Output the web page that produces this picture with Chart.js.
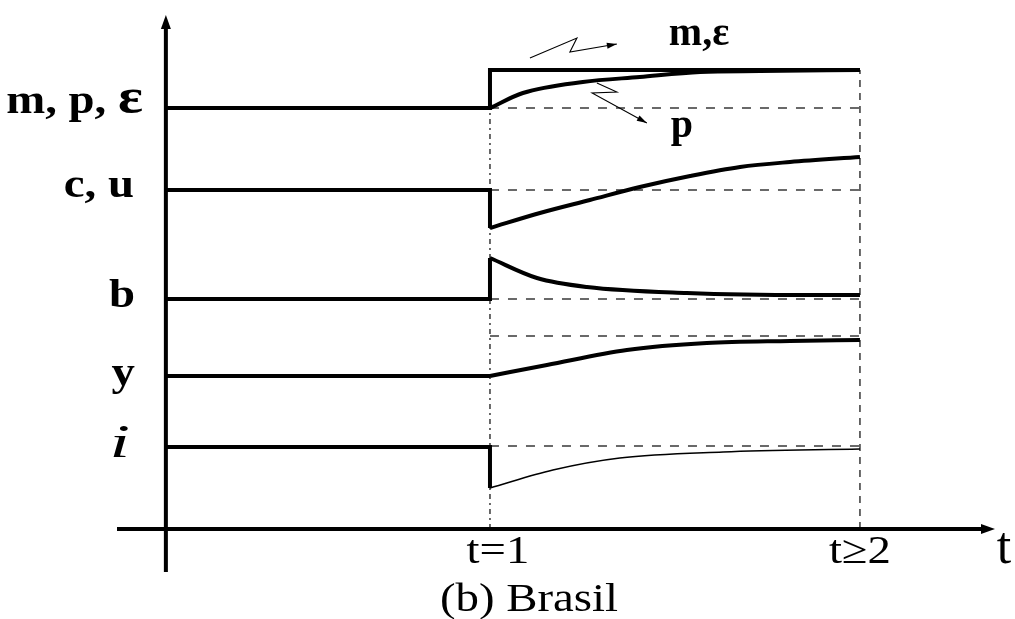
<!DOCTYPE html>
<html>
<head>
<meta charset="utf-8">
<script src="https://cdn.jsdelivr.net/npm/chart.js@4"></script>
<style>
  html, body { margin: 0; padding: 0; background: #fff; }
  #wrap { width: 1015px; height: 619px; position: relative; }
</style>
</head>
<body>
<div id="wrap"><canvas id="chart"></canvas></div>
<script>
// time axis: t=1 is the shock, t=2 the long run; levels in arbitrary units
const AXIS_T = 0.124;            // where the vertical axis sits
const X_MAX = 2.365, Y_MAX = 51.4, Y_AXIS_LOW = -4.3;

// m (and ε): step up at t=1
const M_T = [AXIS_T, 1, 1, 2];
const M_V = [42.1, 42.1, 45.9, 45.9];
// p: gradual rise to the new level
const P_T = [1, 1.089, 1.251, 1.405, 1.568, 1.730, 2];
const P_V = [42.1, 43.6, 44.7, 45.2, 45.7, 45.8, 45.9];
// c, u: drop then rise above old level
const C_STEP_T = [AXIS_T, 1, 1];
const C_STEP_V = [33.9, 33.9, 30.1];
const C_T = [1, 1.135, 1.270, 1.405, 1.541, 1.676, 1.811, 2];
const C_V = [30.1, 31.6, 32.9, 34.2, 35.3, 36.2, 36.7, 37.2];
// b: jump up then decay
const B_STEP_T = [AXIS_T, 1, 1];
const B_STEP_V = [23.0, 23.0, 27.1];
const B_T = [1, 1.127, 1.262, 1.532, 1.865, 2];
const B_V = [27.1, 25.1, 24.2, 23.6, 23.4, 23.4];
// y: gradual rise
const Y_STEP_T = [AXIS_T, 1];
const Y_STEP_V = [15.3, 15.3];
const Y_T = [1, 1.154, 1.370, 1.586, 1.811, 2];
const Y_V = [15.3, 16.4, 17.9, 18.6, 18.8, 18.9];
// i: drop then recovery (thin)
const I_STEP_T = [AXIS_T, 1, 1];
const I_STEP_V = [8.2, 8.2, 4.1];
const I_T = [1, 1.170, 1.351, 1.630, 2];
const I_V = [4.1, 5.9, 7.1, 7.7, 8.0];

// dashed reference levels between t=1 and t=2
const REF_LEVELS = [42.1, 33.9, 23.0, 19.3, 8.3];
const REF_TOP = 45.9;

// left labels
const LEVEL_LABELS = ['m, p, ', 'c, u', 'b', 'y', 'i'];
const LEVEL_VALUES = [42.1, 33.9, 23.0, 15.3, 8.2];
const TICK_T = [1, 2];
const TICK_LABELS = ['t=1', 't\u22652'];

const pts = (ts, vs) => ts.map((t, k) => ({ x: t, y: vs[k] }));

function solid(ts, vs, w, curved) {
  return { data: pts(ts, vs), borderColor: '#000', borderWidth: w, pointRadius: 0,
    fill: false, order: 1, cubicInterpolationMode: curved ? 'monotone' : 'default', tension: 0,
    borderCapStyle: 'butt', borderJoinStyle: 'miter' };
}
function dashed(ts, vs, dash) {
  return { data: pts(ts, vs), borderColor: '#2a2a2a', borderWidth: 1.4, pointRadius: 0,
    fill: false, order: 2, borderDash: dash, tension: 0 };
}

const datasets = [
  solid(M_T, M_V, 4, false),
  solid(P_T, P_V, 4, true),
  solid(C_STEP_T, C_STEP_V, 4, false),
  solid(C_T, C_V, 4, true),
  solid(B_STEP_T, B_STEP_V, 4, false),
  solid(B_T, B_V, 4, true),
  solid(Y_STEP_T, Y_STEP_V, 4, false),
  solid(Y_T, Y_V, 4, true),
  solid(I_STEP_T, I_STEP_V, 4, false),
  solid(I_T, I_V, 1.5, true),
];
REF_LEVELS.forEach(v => datasets.push(dashed([1, 2], [v, v], [9, 9])));
datasets.push(dashed([1, 1], [0, REF_TOP], [5, 4, 2, 4]));
datasets.push(dashed([2, 2], [0, REF_TOP], [7, 6]));

function text(ctx, str, x, y, font, align, sx) {
  ctx.save();
  ctx.translate(x, y);
  ctx.scale(sx, 1);
  ctx.font = font;
  ctx.textAlign = align;
  ctx.textBaseline = 'alphabetic';
  ctx.fillStyle = '#000';
  ctx.fillText(str, 0, 0);
  const w = ctx.measureText(str).width * sx;
  ctx.restore();
  return w;
}

function arrowHead(ctx, x0, y0, x1, y1, len, half) {
  const a = Math.atan2(y1 - y0, x1 - x0);
  ctx.beginPath();
  ctx.moveTo(x1, y1);
  ctx.lineTo(x1 - len * Math.cos(a) + half * Math.sin(a), y1 - len * Math.sin(a) - half * Math.cos(a));
  ctx.lineTo(x1 - len * Math.cos(a) - half * Math.sin(a), y1 - len * Math.sin(a) + half * Math.cos(a));
  ctx.closePath();
  ctx.fill();
}

const SERIF = '"Liberation Serif", "Times New Roman", serif';

const decor = {
  id: 'decor',
  afterDatasetsDraw(chart) {
    const { ctx, scales: { x, y } } = chart;
    const px = t => x.getPixelForValue(t), py = v => y.getPixelForValue(v);
    ctx.save();
    ctx.strokeStyle = '#000';
    ctx.fillStyle = '#000';
    ctx.lineWidth = 4;
    // axes
    const ax = px(AXIS_T);
    ctx.beginPath();
    ctx.moveTo(ax, py(Y_AXIS_LOW)); ctx.lineTo(ax, py(Y_MAX) + 8);
    ctx.moveTo(px(0) - 3, py(0)); ctx.lineTo(px(X_MAX) - 8, py(0));
    ctx.stroke();
    arrowHead(ctx, ax, py(0), ax, py(Y_MAX), 14, 5);
    arrowHead(ctx, px(0), py(0), px(X_MAX), py(0), 14, 5);

    // zigzag annotation arrows
    ctx.lineWidth = 1.1;
    const zig = (ts, vs) => {
      ctx.beginPath();
      ts.forEach((t, k) => k ? ctx.lineTo(px(t), py(vs[k])) : ctx.moveTo(px(t), py(vs[k])));
      ctx.stroke();
      const n = ts.length;
      arrowHead(ctx, px(ts[n - 2]), py(vs[n - 2]), px(ts[n - 1]), py(vs[n - 1]), 10, 3);
    };
    zig([1.108, 1.235, 1.216, 1.343], [47.1, 49.1, 47.7, 48.5]);
    zig([1.289, 1.343, 1.276, 1.424], [44.6, 43.7, 43.6, 40.6]);

    // curve labels
    text(ctx, 'm,\u03b5', px(1.565), py(48.4), 'bold 40px ' + SERIF, 'center', 1.0);
    text(ctx, 'p', px(1.519), py(39.2), 'bold 40px ' + SERIF, 'center', 1.0);

    // left level labels
    const SX = 1.17;
    const offs = [5, 7, 8, 9, 10];
    const rights = [143, 134, 135, 135, 130];
    LEVEL_LABELS.forEach((lab, k) => {
      const yy = py(LEVEL_VALUES[k]) + offs[k];
      if (k === 0) {
        const w = text(ctx, '\u03b5', rights[k], yy, 'bold 50px ' + SERIF, 'right', SX);
        text(ctx, lab, rights[k] - w, yy, 'bold 40px ' + SERIF, 'right', SX);
      } else if (lab === 'i') {
        text(ctx, lab, rights[k], yy, 'italic 46px ' + SERIF, 'right', 1.6);
      } else {
        text(ctx, lab, rights[k], yy, 'bold 40px ' + SERIF, 'right', SX);
      }
    });

    // bottom tick labels
    const tickShift = [8, 0];
    TICK_T.forEach((t, k) => text(ctx, TICK_LABELS[k], px(t) + tickShift[k], py(0) + 34, '40px ' + SERIF, 'center', 1.17));
    text(ctx, 't', px(X_MAX) + 9, py(0) + 34, '52px ' + SERIF, 'center', 1.0);
    text(ctx, '(b) Brasil', 529, 611, '40px ' + SERIF, 'center', 1.17);
    ctx.restore();
  }
};

new Chart(document.getElementById('chart'), {
  type: 'line',
  data: { datasets },
  options: {
    responsive: true, maintainAspectRatio: false, animation: false, events: [],
    layout: { padding: { left: 120, right: 20, top: 15, bottom: 90 } },
    plugins: { legend: { display: false }, tooltip: { enabled: false } },
    scales: {
      x: { type: 'linear', min: 0, max: X_MAX, display: false },
      y: { type: 'linear', min: 0, max: Y_MAX, display: false }
    }
  },
  plugins: [decor]
});
</script>
</body>
</html>
